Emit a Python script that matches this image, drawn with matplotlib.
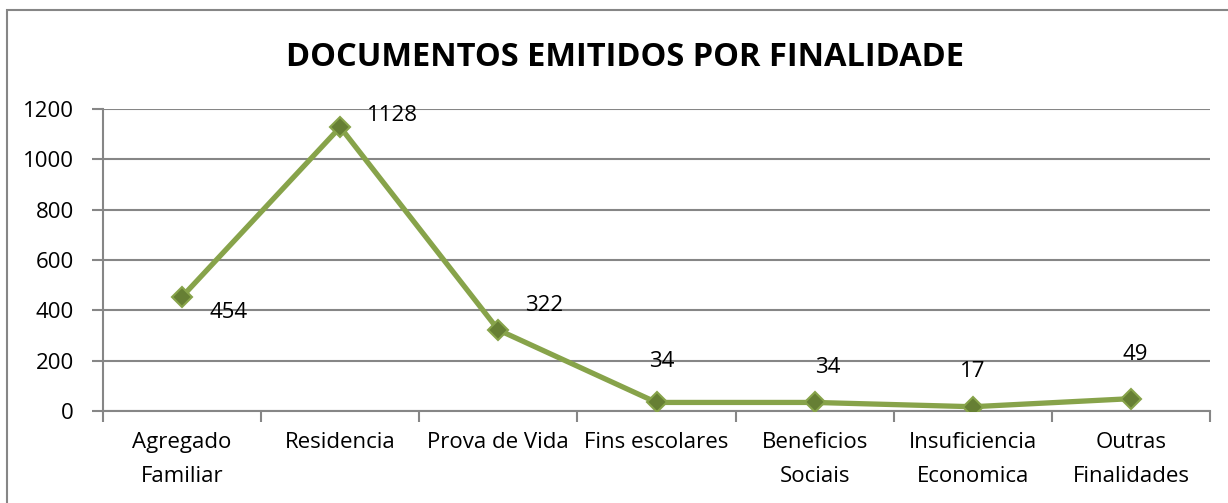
import matplotlib
matplotlib.use('Agg')
import matplotlib.pyplot as plt
from matplotlib.patches import Rectangle
import numpy as np

# DATA
categories = ['Agregado\nFamiliar', 'Residencia', 'Prova de Vida', 'Fins escolares',
              'Beneficios\nSociais', 'Insuficiencia\nEconomica', 'Outras\nFinalidades']
values = [454, 1128, 322, 34, 34, 17, 49]
yticks = [0, 200, 400, 600, 800, 1000, 1200]

# label offsets in pixels (dx, dy) as placed in the original
label_offsets = [(46, -16), (52, 12), (46, 24), (5, 41), (13, 35), (0, 35), (4, 44)]

plt.rcParams['font.family'] = ['Open Sans', 'DejaVu Sans']

line_col = '#87A34A'
marker_col = '#667F34'
grid_col = '#868686'

fig = plt.figure(figsize=(12.28, 5.03), dpi=100)
ax = fig.add_axes([103 / 1228, 1 - 411 / 503, (1210 - 103) / 1228, (411 - 109) / 503])

x = np.arange(len(values))
ax.plot(x, values, color=line_col, lw=3.8, marker='D', ms=10,
        mfc=marker_col, mec=line_col, mew=1.5, zorder=3)

for xi, v, (dx, dy) in zip(x, values, label_offsets):
    ax.annotate(str(v), (xi, v), xytext=(dx, dy), textcoords='offset pixels',
                ha='center', va='center', fontsize=16, color='black')

ax.set_xlim(-0.5, len(values) - 0.5)
ax.set_ylim(0, 1200)
ax.set_yticks(yticks)
ax.set_yticklabels([str(t) for t in yticks], fontsize=16)
ax.yaxis.grid(True, color=grid_col, lw=1.5)
ax.set_axisbelow(True)

# category labels between boundary ticks
ax.set_xticks(np.arange(len(values) + 1) - 0.5)
ax.set_xticklabels([])
ax.set_xticks(x, minor=True)
ax.set_xticklabels(categories, minor=True, fontsize=16, linespacing=1.8)
ax.tick_params(axis='x', which='minor', length=0, pad=15)
ax.tick_params(axis='x', which='major', length=8, color=grid_col, width=1.5)
ax.tick_params(axis='y', length=8, color=grid_col, width=1.5, pad=13)

for s in ['top', 'right']:
    ax.spines[s].set_visible(False)
for s in ['left', 'bottom']:
    ax.spines[s].set_color(grid_col)
    ax.spines[s].set_linewidth(1.5)

fig.text(0.509, 1 - 57 / 503, 'DOCUMENTOS EMITIDOS POR FINALIDADE',
         ha='center', va='center', fontsize=23.5, fontweight='bold')

# outer chart border
fig.patches.append(Rectangle((7 / 1228, -0.02), 1.0, 1 - 10.5 / 503 + 0.02,
                             transform=fig.transFigure, fill=False,
                             edgecolor=grid_col, lw=1.5))

fig.savefig('out.png', dpi=100)
